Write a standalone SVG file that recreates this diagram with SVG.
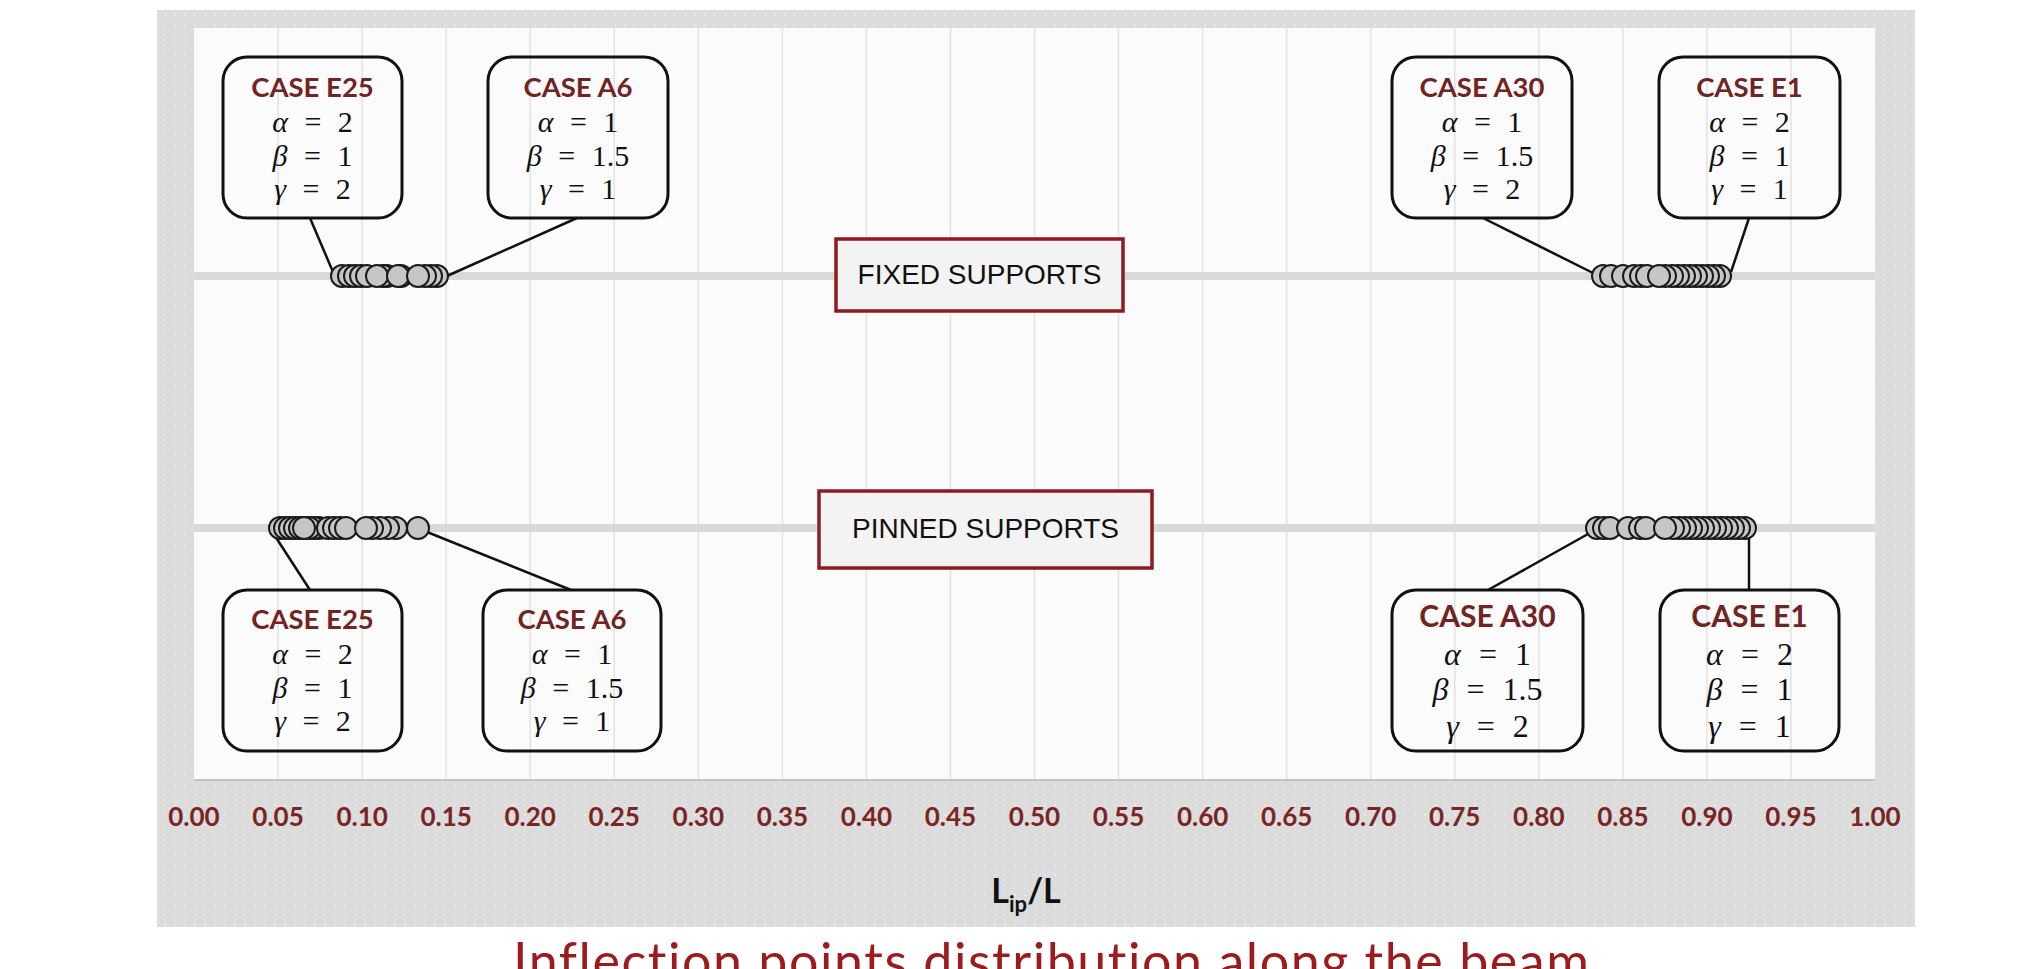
<svg xmlns="http://www.w3.org/2000/svg" width="2030" height="969" viewBox="0 0 2030 969">
<defs>
<pattern id="dots" width="10" height="10" patternUnits="userSpaceOnUse">
<rect width="10" height="10" fill="#dcdcdc"/>
<circle cx="5" cy="5" r="1" fill="#ececec"/>
</pattern>
<style>
.grid{stroke:#e2e2e2;stroke-width:1.5}
.band{fill:#d9d9d9}
.tick{font-family:Lato,"Liberation Sans",sans-serif;font-weight:bold;font-size:26px;fill:#7a2424;text-anchor:middle}
.call{fill:none;stroke:#111;stroke-width:3}
.ctitle{font-family:Lato,"Liberation Sans",sans-serif;font-weight:bold;font-size:27.5px;fill:#722323;text-anchor:middle}
.ctitle2{font-family:Lato,"Liberation Sans",sans-serif;font-weight:bold;font-size:30px;fill:#722323;text-anchor:middle}
.math{font-family:"Liberation Serif","DejaVu Serif",serif;font-size:30px;fill:#111;text-anchor:middle;word-spacing:9px}
.math2{font-family:"Liberation Serif","DejaVu Serif",serif;font-size:32px;fill:#111;text-anchor:middle;word-spacing:10px}
.g{font-style:italic}
.sup{fill:#f3f3f3;stroke:#8e1b1f;stroke-width:3.5}
.suptxt{font-family:"Liberation Sans",Arial,sans-serif;font-size:28px;fill:#111;text-anchor:middle}
.lead{stroke:#111;stroke-width:2.5;fill:none}
.pt{fill:#c6c6c6;stroke:#1a1a1a;stroke-width:2}
</style>
</defs>
<rect width="2030" height="969" fill="#ffffff"/>
<g id="panel">
<rect x="157" y="10" width="1758" height="917" fill="url(#dots)"/>
<rect x="194" y="28" width="1681" height="751" fill="#fbfbfb"/>
<line x1="194" y1="780" x2="1875" y2="780" stroke="#c4c4c4" stroke-width="2"/>
</g>
<g id="grid">
<line class="grid" x1="278.05" y1="28" x2="278.05" y2="779"/>
<line class="grid" x1="362.1" y1="28" x2="362.1" y2="779"/>
<line class="grid" x1="446.15" y1="28" x2="446.15" y2="779"/>
<line class="grid" x1="530.2" y1="28" x2="530.2" y2="779"/>
<line class="grid" x1="614.25" y1="28" x2="614.25" y2="779"/>
<line class="grid" x1="698.3" y1="28" x2="698.3" y2="779"/>
<line class="grid" x1="782.35" y1="28" x2="782.35" y2="779"/>
<line class="grid" x1="866.4" y1="28" x2="866.4" y2="779"/>
<line class="grid" x1="950.45" y1="28" x2="950.45" y2="779"/>
<line class="grid" x1="1034.5" y1="28" x2="1034.5" y2="779"/>
<line class="grid" x1="1118.55" y1="28" x2="1118.55" y2="779"/>
<line class="grid" x1="1202.6" y1="28" x2="1202.6" y2="779"/>
<line class="grid" x1="1286.65" y1="28" x2="1286.65" y2="779"/>
<line class="grid" x1="1370.7" y1="28" x2="1370.7" y2="779"/>
<line class="grid" x1="1454.75" y1="28" x2="1454.75" y2="779"/>
<line class="grid" x1="1538.8" y1="28" x2="1538.8" y2="779"/>
<line class="grid" x1="1622.85" y1="28" x2="1622.85" y2="779"/>
<line class="grid" x1="1706.9" y1="28" x2="1706.9" y2="779"/>
<line class="grid" x1="1790.95" y1="28" x2="1790.95" y2="779"/>
<rect class="band" x="194" y="272" width="1681" height="8"/>
<rect class="band" x="194" y="524" width="1681" height="8"/>
</g>
<g id="axis">
<text class="tick" x="194" y="826">0.00</text>
<text class="tick" x="278.05" y="826">0.05</text>
<text class="tick" x="362.1" y="826">0.10</text>
<text class="tick" x="446.15" y="826">0.15</text>
<text class="tick" x="530.2" y="826">0.20</text>
<text class="tick" x="614.25" y="826">0.25</text>
<text class="tick" x="698.3" y="826">0.30</text>
<text class="tick" x="782.35" y="826">0.35</text>
<text class="tick" x="866.4" y="826">0.40</text>
<text class="tick" x="950.45" y="826">0.45</text>
<text class="tick" x="1034.5" y="826">0.50</text>
<text class="tick" x="1118.55" y="826">0.55</text>
<text class="tick" x="1202.6" y="826">0.60</text>
<text class="tick" x="1286.65" y="826">0.65</text>
<text class="tick" x="1370.7" y="826">0.70</text>
<text class="tick" x="1454.75" y="826">0.75</text>
<text class="tick" x="1538.8" y="826">0.80</text>
<text class="tick" x="1622.85" y="826">0.85</text>
<text class="tick" x="1706.9" y="826">0.90</text>
<text class="tick" x="1790.95" y="826">0.95</text>
<text class="tick" x="1875" y="826">1.00</text>
<text x="1026" y="903" font-family="Lato,'Liberation Sans',sans-serif" font-weight="bold" font-size="34" fill="#111" text-anchor="middle">L<tspan font-size="22" dy="9">ip</tspan><tspan dy="-9">/L</tspan></text>
</g>
<g id="connectors">
<line class="lead" x1="310" y1="218" x2="333" y2="272"/>
<line class="lead" x1="577" y1="218" x2="447" y2="276"/>
<line class="lead" x1="1483" y1="218" x2="1595" y2="274"/>
<line class="lead" x1="1749" y1="218" x2="1731" y2="272"/>
<line class="lead" x1="275" y1="536" x2="310" y2="590"/>
<line class="lead" x1="427" y1="532" x2="571" y2="590"/>
<line class="lead" x1="1588" y1="534" x2="1488" y2="590"/>
<line class="lead" x1="1749" y1="536" x2="1749" y2="590"/>
</g>
<g id="points-fixed-left">
<circle class="pt" cx="342" cy="276" r="11"/><circle class="pt" cx="349" cy="276" r="11"/><circle class="pt" cx="355" cy="276" r="11"/><circle class="pt" cx="361" cy="276" r="11"/><circle class="pt" cx="367" cy="276" r="11"/><circle class="pt" cx="387" cy="276" r="11"/><circle class="pt" cx="383" cy="276" r="11"/><circle class="pt" cx="377" cy="276" r="11"/><circle class="pt" cx="437" cy="276" r="11"/><circle class="pt" cx="431" cy="276" r="11"/><circle class="pt" cx="425" cy="276" r="11"/><circle class="pt" cx="401" cy="276" r="11"/><circle class="pt" cx="398" cy="276" r="11"/><circle class="pt" cx="418" cy="276" r="11"/>
</g>
<g id="points-fixed-right">
<circle class="pt" cx="1603" cy="276" r="11"/><circle class="pt" cx="1611" cy="276" r="11"/><circle class="pt" cx="1623" cy="276" r="11"/><circle class="pt" cx="1634" cy="276" r="11"/><circle class="pt" cx="1641" cy="276" r="11"/><circle class="pt" cx="1647" cy="276" r="11"/><circle class="pt" cx="1720" cy="276" r="11"/><circle class="pt" cx="1714" cy="276" r="11"/><circle class="pt" cx="1708" cy="276" r="11"/><circle class="pt" cx="1702" cy="276" r="11"/><circle class="pt" cx="1696" cy="276" r="11"/><circle class="pt" cx="1690" cy="276" r="11"/><circle class="pt" cx="1684" cy="276" r="11"/><circle class="pt" cx="1678" cy="276" r="11"/><circle class="pt" cx="1672" cy="276" r="11"/><circle class="pt" cx="1665" cy="276" r="11"/><circle class="pt" cx="1659" cy="276" r="11"/>
</g>
<g id="points-pinned-left">
<circle class="pt" cx="280" cy="528" r="11"/><circle class="pt" cx="285" cy="528" r="11"/><circle class="pt" cx="290" cy="528" r="11"/><circle class="pt" cx="295" cy="528" r="11"/><circle class="pt" cx="300" cy="528" r="11"/><circle class="pt" cx="319" cy="528" r="11"/><circle class="pt" cx="314" cy="528" r="11"/><circle class="pt" cx="309" cy="528" r="11"/><circle class="pt" cx="304" cy="528" r="11"/><circle class="pt" cx="328" cy="528" r="11"/><circle class="pt" cx="334" cy="528" r="11"/><circle class="pt" cx="340" cy="528" r="11"/><circle class="pt" cx="346" cy="528" r="11"/><circle class="pt" cx="396" cy="528" r="11"/><circle class="pt" cx="388" cy="528" r="11"/><circle class="pt" cx="380" cy="528" r="11"/><circle class="pt" cx="372" cy="528" r="11"/><circle class="pt" cx="366" cy="528" r="11"/><circle class="pt" cx="418" cy="528" r="11"/>
</g>
<g id="points-pinned-right">
<circle class="pt" cx="1597" cy="528" r="11"/><circle class="pt" cx="1604" cy="528" r="11"/><circle class="pt" cx="1610" cy="528" r="11"/><circle class="pt" cx="1628" cy="528" r="11"/><circle class="pt" cx="1640" cy="528" r="11"/><circle class="pt" cx="1646" cy="528" r="11"/><circle class="pt" cx="1745" cy="528" r="11"/><circle class="pt" cx="1739" cy="528" r="11"/><circle class="pt" cx="1733" cy="528" r="11"/><circle class="pt" cx="1727" cy="528" r="11"/><circle class="pt" cx="1721" cy="528" r="11"/><circle class="pt" cx="1715" cy="528" r="11"/><circle class="pt" cx="1709" cy="528" r="11"/><circle class="pt" cx="1703" cy="528" r="11"/><circle class="pt" cx="1697" cy="528" r="11"/><circle class="pt" cx="1691" cy="528" r="11"/><circle class="pt" cx="1685" cy="528" r="11"/><circle class="pt" cx="1679" cy="528" r="11"/><circle class="pt" cx="1673" cy="528" r="11"/><circle class="pt" cx="1665" cy="528" r="11"/>
</g>
<g id="fixed-supports">
<rect class="sup" x="836" y="239" width="287" height="72"/>
<text class="suptxt" x="979.5" y="284">FIXED SUPPORTS</text>
</g>
<g id="pinned-supports">
<rect class="sup" x="819" y="491" width="333" height="77"/>
<text class="suptxt" x="985.5" y="538">PINNED SUPPORTS</text>
</g>
<g id="fixed-e25">
<rect class="call" x="223" y="57" width="179" height="161" rx="24"/>
<text class="ctitle" x="312.5" y="97">CASE E25</text>
<text class="math" x="312.5" y="132"><tspan class="g">α</tspan> = 2</text>
<text class="math" x="312.5" y="166"><tspan class="g">β</tspan> = 1</text>
<text class="math" x="312.5" y="199"><tspan class="g">γ</tspan> = 2</text>
</g>
<g id="fixed-a6">
<rect class="call" x="488" y="57" width="180" height="161" rx="24"/>
<text class="ctitle" x="578" y="97">CASE A6</text>
<text class="math" x="578" y="132"><tspan class="g">α</tspan> = 1</text>
<text class="math" x="578" y="166"><tspan class="g">β</tspan> = 1.5</text>
<text class="math" x="578" y="199"><tspan class="g">γ</tspan> = 1</text>
</g>
<g id="fixed-a30">
<rect class="call" x="1392" y="57" width="180" height="161" rx="24"/>
<text class="ctitle" x="1482" y="97">CASE A30</text>
<text class="math" x="1482" y="132"><tspan class="g">α</tspan> = 1</text>
<text class="math" x="1482" y="166"><tspan class="g">β</tspan> = 1.5</text>
<text class="math" x="1482" y="199"><tspan class="g">γ</tspan> = 2</text>
</g>
<g id="fixed-e1">
<rect class="call" x="1659" y="57" width="181" height="161" rx="24"/>
<text class="ctitle" x="1749.5" y="97">CASE E1</text>
<text class="math" x="1749.5" y="132"><tspan class="g">α</tspan> = 2</text>
<text class="math" x="1749.5" y="166"><tspan class="g">β</tspan> = 1</text>
<text class="math" x="1749.5" y="199"><tspan class="g">γ</tspan> = 1</text>
</g>
<g id="pinned-e25">
<rect class="call" x="223" y="590" width="179" height="161" rx="24"/>
<text class="ctitle" x="312.5" y="629">CASE E25</text>
<text class="math" x="312.5" y="664"><tspan class="g">α</tspan> = 2</text>
<text class="math" x="312.5" y="698"><tspan class="g">β</tspan> = 1</text>
<text class="math" x="312.5" y="731"><tspan class="g">γ</tspan> = 2</text>
</g>
<g id="pinned-a6">
<rect class="call" x="483" y="590" width="178" height="161" rx="24"/>
<text class="ctitle" x="572" y="629">CASE A6</text>
<text class="math" x="572" y="664"><tspan class="g">α</tspan> = 1</text>
<text class="math" x="572" y="698"><tspan class="g">β</tspan> = 1.5</text>
<text class="math" x="572" y="731"><tspan class="g">γ</tspan> = 1</text>
</g>
<g id="pinned-a30">
<rect class="call" x="1392" y="590" width="191" height="161" rx="24"/>
<text class="ctitle2" x="1487.5" y="627">CASE A30</text>
<text class="math2" x="1487.5" y="665"><tspan class="g">α</tspan> = 1</text>
<text class="math2" x="1487.5" y="700"><tspan class="g">β</tspan> = 1.5</text>
<text class="math2" x="1487.5" y="737"><tspan class="g">γ</tspan> = 2</text>
</g>
<g id="pinned-e1">
<rect class="call" x="1660" y="590" width="179" height="161" rx="24"/>
<text class="ctitle2" x="1749.5" y="627">CASE E1</text>
<text class="math2" x="1749.5" y="665"><tspan class="g">α</tspan> = 2</text>
<text class="math2" x="1749.5" y="700"><tspan class="g">β</tspan> = 1</text>
<text class="math2" x="1749.5" y="737"><tspan class="g">γ</tspan> = 1</text>
</g>
<g id="caption">
<text x="513" y="980" font-family="Lato,'Liberation Sans',sans-serif" font-size="52" fill="#9b1b1f" style="font-variant-ligatures:none" textLength="1076" lengthAdjust="spacing">Inflection points distribution along the beam</text>
</g>
</svg>
